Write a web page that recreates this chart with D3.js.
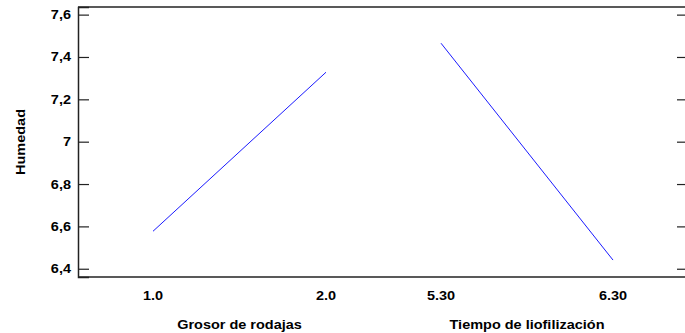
<!DOCTYPE html>
<html>
<head>
<meta charset="utf-8">
<script src="https://cdn.jsdelivr.net/npm/d3@7"></script>
<style>
  body { margin: 0; background: #fff; }
  text { font-family: Arial, "Liberation Sans", sans-serif; font-weight: bold; fill: #000; }
</style>
</head>
<body>
<script>
// main effects plot data
const factors = ['Grosor de rodajas', 'Tiempo de liofilización'];
const levels = [['1.0', '2.0'], ['5.30', '6.30']];
const means = [[6.577, 7.328], [7.465, 6.441]];
const yTicks = [6.4, 6.6, 6.8, 7.0, 7.2, 7.4, 7.6];
const yLabel = 'Humedad';

const width = 685;
const height = 333;
const margin = { top: 7, right: 0, bottom: 56, left: 78 };
const fontSize = 12.6;
const stretch = 1.15; // glyphs in the original are a bit wider than Arial

const svg = d3.select('body')
  .append('svg')
  .attr('width', width)
  .attr('height', height);

const y = d3.scaleLinear()
  .domain([6.361, 7.636])
  .range([height - margin.bottom, margin.top]);

// each factor gets its own stretch of the x axis
const factorRanges = [[153, 326], [441, 613]];
const xs = factorRanges.map(r => d3.scalePoint().domain([0, 1]).range(r));

function label(x, yy, txt, anchor, rotate) {
  svg.append('text')
    .attr('transform', `translate(${x},${yy})${rotate ? ` rotate(${rotate})` : ''} scale(${stretch},1)`)
    .attr('text-anchor', anchor)
    .attr('font-size', fontSize)
    .text(txt);
}

// frame
svg.append('line')
  .attr('x1', margin.left).attr('x2', width)
  .attr('y1', margin.top).attr('y2', margin.top)
  .attr('stroke', '#222').attr('stroke-width', 1.5);
svg.append('line')
  .attr('x1', margin.left).attr('x2', width)
  .attr('y1', y.range()[0]).attr('y2', y.range()[0])
  .attr('stroke', '#222').attr('stroke-width', 1.5);

// left axis, ticks pointing inward
const fmt = d => (d === 7 ? '7' : d3.format('.1f')(d).replace('.', ','));
svg.append('g')
  .attr('transform', `translate(${margin.left},0)`)
  .call(d3.axisLeft(y).tickValues(yTicks).tickSize(-11).tickFormat(''))
  .call(g => g.select('.domain').attr('stroke', '#222').attr('stroke-width', 1.5))
  .call(g => g.selectAll('.tick line').attr('stroke', '#222').attr('stroke-width', 1.2));

yTicks.forEach(t => label(71, y(t) + 4.5, fmt(t), 'end'));

// right ticks
svg.append('g')
  .attr('transform', `translate(${width},0)`)
  .call(d3.axisRight(y).tickValues(yTicks).tickSize(-8).tickFormat(''))
  .call(g => g.select('.domain').remove())
  .call(g => g.selectAll('.tick line').attr('stroke', '#222').attr('stroke-width', 1.2));

// y label
label(25, (y.range()[0] + y.range()[1]) / 2, yLabel, 'middle', -90);

const line = d3.line();

factors.forEach((f, i) => {
  const x = xs[i];
  svg.append('path')
    .datum(means[i].map((v, j) => [x(j), y(v)]))
    .attr('d', line)
    .attr('fill', 'none')
    .attr('stroke', '#1a1aff')
    .attr('stroke-width', 1);

  levels[i].forEach((lab, j) => label(x(j), 299.5, lab, 'middle'));

  label((factorRanges[i][0] + factorRanges[i][1]) / 2, 328.5, f, 'middle');
});
</script>
</body>
</html>
